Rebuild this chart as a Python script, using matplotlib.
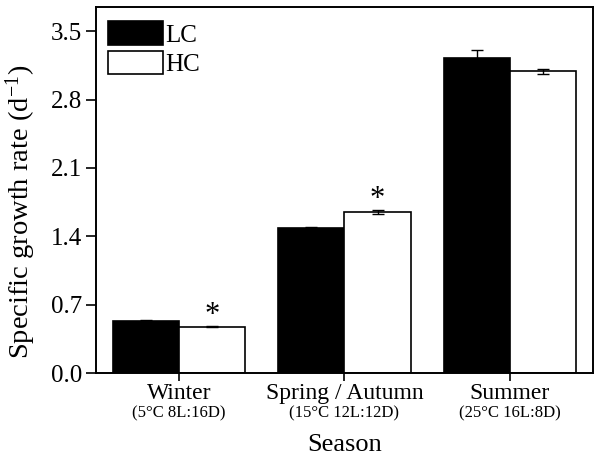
import numpy as np
import matplotlib.pyplot as plt

plt.rcParams['font.family'] = ['Liberation Serif', 'DejaVu Serif']
plt.rcParams['mathtext.default'] = 'regular'

seasons = ["Winter", "Spring / Autumn", "Summer"]
conditions = ["(5\u00b0C 8L:16D)", "(15\u00b0C 12L:12D)", "(25\u00b0C 16L:8D)"]
lc_vals = [0.535, 1.487, 3.224]
lc_err = [0.008, 0.008, 0.08]
hc_vals = [0.474, 1.651, 3.088]
hc_err = [0.006, 0.02, 0.03]
signif = [True, True, False]

fig = plt.figure(figsize=(6.0, 4.55), dpi=100)
ax = fig.add_axes([0.16, 0.18, 0.828, 0.805])

x = np.arange(len(seasons))
w = 0.4
ekw = dict(elinewidth=1.0, capthick=1.0, ecolor="black")
ax.bar(x - w / 2, lc_vals, w, yerr=lc_err, color="black", edgecolor="black",
       linewidth=1.2, capsize=4, error_kw=ekw, label="LC")
ax.bar(x + w / 2, hc_vals, w, yerr=hc_err, color="white", edgecolor="black",
       linewidth=1.2, capsize=4, error_kw=ekw, label="HC")

# significance marks
for i, s in enumerate(signif):
    if s:
        ax.text(x[i] + w / 2, hc_vals[i] + hc_err[i] + 0.11, "*",
                ha="center", va="center", fontsize=22)

ax.set_xlim(-0.5, 2.5)
ax.set_ylim(0, 3.75)
yt = np.arange(0, 3.6, 0.7)
ax.set_yticks(yt)
ax.set_yticklabels([f"{v:.1f}" for v in yt])
ax.set_xticks(x)
ax.set_xticklabels(seasons, fontsize=17)
for i, c in enumerate(conditions):
    ax.text(x[i], -0.33, c, ha="center", va="top", fontsize=12)

ax.tick_params(axis="y", labelsize=18, direction="out", length=7, width=1.2, pad=3)
ax.tick_params(axis="x", direction="out", length=6, width=1.2, pad=1)
for sp in ax.spines.values():
    sp.set_linewidth(1.4)

ax.set_ylabel("Specific growth rate (d$^{-1}$)", fontsize=20.5)
ax.yaxis.set_label_coords(-0.117, 0.44)
ax.set_xlabel("Season", fontsize=19, labelpad=22)

ax.legend(loc="upper left", bbox_to_anchor=(0.024, 0.96), frameon=False,
          fontsize=18, handlelength=2.2, handleheight=1.05, labelspacing=0.18,
          handletextpad=0.1, borderpad=0, borderaxespad=0)

fig.savefig("out.png", dpi=100)
